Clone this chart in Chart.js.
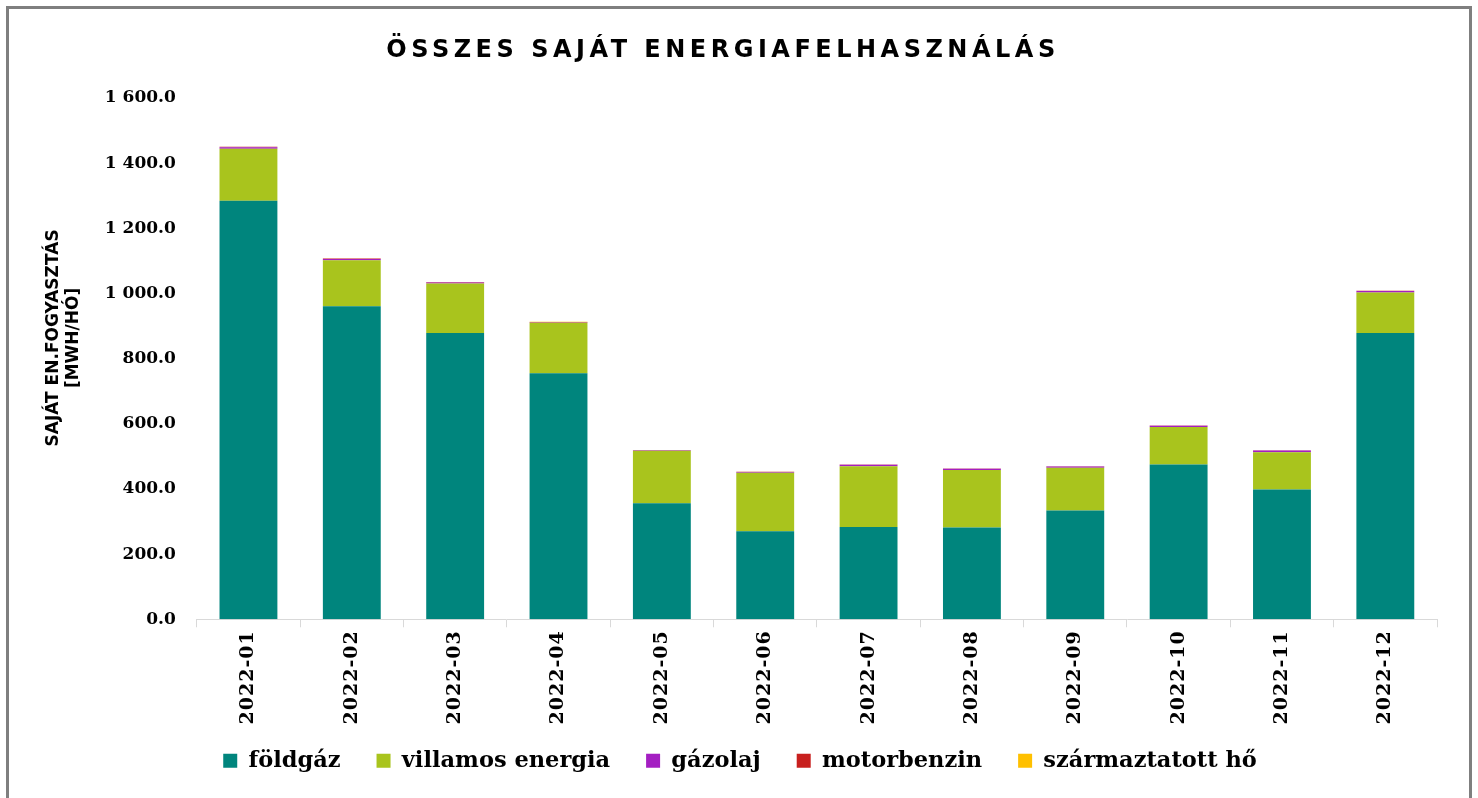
<!DOCTYPE html>
<html lang="hu">
<head>
<meta charset="UTF-8">
<title>Összes saját energiafelhasználás</title>
<script src="https://cdn.jsdelivr.net/npm/chart.js"></script>
<style>
  html, body { margin: 0; padding: 0; background: #fff; overflow: hidden; }
  #wrap { position: relative; width: 1478px; height: 798px; }
  #frame { position: absolute; left: 6px; top: 6px; width: 1460px; height: 800px;
           border: 3px solid #7f7f7f; pointer-events: none; }
  #title { position: absolute; left: 0; top: 35px; width: 1446px; text-align: center;
           font-family: "DejaVu Sans", sans-serif; font-weight: bold; font-size: 24px;
           letter-spacing: 4.5px; color: #000; }
  canvas { position: absolute; left: 0; top: 0; }
</style>
</head>
<body>
<div id="wrap">
  <canvas id="energyChart" width="1478" height="798"></canvas>
  <div id="title">ÖSSZES SAJÁT ENERGIAFELHASZNÁLÁS</div>
  <div id="frame"></div>
</div>

<script>
// months
const months = ['2022-01', '2022-02', '2022-03', '2022-04', '2022-05', '2022-06',
                '2022-07', '2022-08', '2022-09', '2022-10', '2022-11', '2022-12'];

// MWh / month
const foldgaz      = [1285, 961, 879, 755, 356, 270, 283, 282, 334, 475, 398, 879];
const villamos     = [159, 141, 152, 155, 161, 180, 187, 176, 131, 115, 115, 124];
const gazolaj      = [5, 4, 3, 1, 2, 2, 4, 4, 4, 4, 5, 5];
const motorbenzin  = [1, 1, 1, 1.5, 0.5, 0.5, 1, 1, 1, 1, 1, 0.5];
const szarmaztatott = [0.5, 0, 0, 0.5, 0, 0, 0, 0, 0, 0, 0, 0];

const yTicks = [0, 200, 400, 600, 800, 1000, 1200, 1400, 1600];

function fmt(v) {
    const parts = v.toFixed(1).split('.');
    return parts[0].replace(/\B(?=(\d{3})+(?!\d))/g, ' ') + '.' + parts[1];
}

const serif = '"DejaVu Serif", serif';

const ds = (label, data, color) => ({
    label: label,
    data: data,
    backgroundColor: color,
    borderWidth: 0,
    barPercentage: 0.56,
    categoryPercentage: 1.0
});

// month labels are a bit spaced out in the original, and may run into the legend's top padding
const spacedLabels = {
    id: 'spacedLabels',
    beforeDraw(chart) {
        const sx = chart.scales.x;
        if (sx._spaced) return;
        const orig = sx.drawLabels.bind(sx);
        sx.drawLabels = function (area) {
            const c = this.ctx;
            const b = this.bottom;
            c.save();
            c.letterSpacing = '1px';
            this.bottom = chart.height;
            orig(area);
            this.bottom = b;
            c.restore();
        };
        sx._spaced = true;
    }
};

new Chart(document.getElementById('energyChart').getContext('2d'), {
    type: 'bar',
    data: {
        labels: months,
        datasets: [
            ds('földgáz', foldgaz, '#00857D'),
            ds('villamos energia', villamos, '#A9C41D'),
            ds('gázolaj', gazolaj, '#A41FC2'),
            ds('motorbenzin', motorbenzin, '#C8201E'),
            ds('származtatott hő', szarmaztatott, '#FFC000')
        ]
    },
    plugins: [spacedLabels],
    options: {
        responsive: false,
        animation: false,
        layout: { padding: { left: 43, right: 41, top: 98, bottom: 16 } },
        scales: {
            x: {
                stacked: true,
                afterFit: scale => { scale.height -= 7; },
                grid: { display: true, drawOnChartArea: false, drawTicks: true, tickLength: 8, color: '#d9d9d9' },
                border: { display: true, color: '#d9d9d9', width: 1 },
                ticks: {
                    color: '#000',
                    font: { family: serif, size: 19, weight: 'bold' },
                    minRotation: 90, maxRotation: 90,
                    padding: 3
                }
            },
            y: {
                stacked: true,
                min: 0, max: 1600,
                afterBuildTicks: axis => { axis.ticks = yTicks.map(v => ({ value: v })); },
                grid: { display: false, drawTicks: false },
                border: { display: false },
                ticks: {
                    color: '#000',
                    font: { family: serif, size: 17, weight: 'bold' },
                    padding: 21,
                    callback: v => fmt(v)
                },
                title: {
                    display: true,
                    text: ['       SAJÁT EN.FOGYASZTÁS', '       [MWH/HÓ]'],
                    color: '#000',
                    font: { family: '"DejaVu Sans", sans-serif', size: 17, weight: 'bold', lineHeight: 1.2 },
                    padding: { top: 0, bottom: 0 }
                }
            }
        },
        plugins: {
            legend: {
                position: 'bottom',
                labels: {
                    color: '#000',
                    boxWidth: 14,
                    boxHeight: 14,
                    padding: 36,
                    font: { family: serif, size: 22.5, weight: 'bold' }
                }
            },
            tooltip: { enabled: false },
            title: { display: false }
        }
    }
});
</script>
</body>
</html>
